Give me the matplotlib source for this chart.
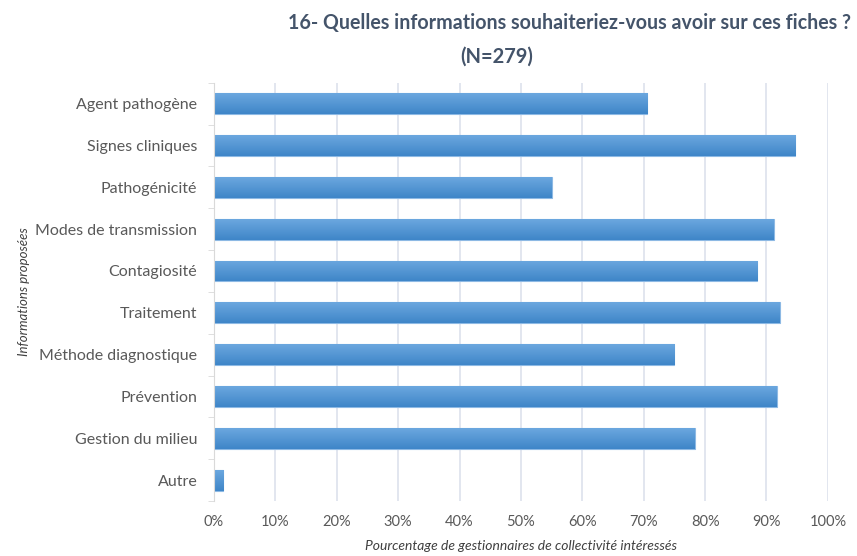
import matplotlib
matplotlib.use("Agg")
import matplotlib.pyplot as plt
import numpy as np
from matplotlib.ticker import PercentFormatter

# data (percent of managers interested)
categories = ['Agent pathogène', 'Signes cliniques', 'Pathogénicité',
              'Modes de transmission', 'Contagiosité', 'Traitement',
              'Méthode diagnostique', 'Prévention', 'Gestion du milieu', 'Autre']
values = [70.6, 94.7, 55.0, 91.2, 88.5, 92.2, 75.0, 91.7, 78.3, 1.5]
xticks = [0, 10, 20, 30, 40, 50, 60, 70, 80, 90, 100]

plt.rcParams['font.family'] = ['Lato', 'DejaVu Sans']

fig = plt.figure(figsize=(8.57, 5.56), dpi=100)
ax = fig.add_axes([0.2497, 0.099, 0.7163, 0.752])

y = np.arange(len(categories))
bars = ax.barh(y, values, height=0.5, color='#5B9BD5', edgecolor='#8DB9E4',
               linewidth=0.8, zorder=2)

# light vertical gradient inside each bar, like the Excel fill
grad = np.linspace(0, 1, 50).reshape(-1, 1)
cmap = matplotlib.colors.LinearSegmentedColormap.from_list('g', ['#6BA7DF', '#3F86C8'])
for b in bars:
    x0, yb = b.get_x(), b.get_y()
    w, h = b.get_width(), b.get_height()
    im = ax.imshow(grad, extent=[x0, x0 + w, yb + h, yb], aspect='auto',
                   cmap=cmap, zorder=2.5, origin='upper')
    im.set_clip_path(b)

ax.set_ylim(len(categories) - 0.5, -0.5)
ax.set_xlim(0, 100)
ax.set_yticks(y)
ax.set_yticklabels(categories, fontsize=11.5, color='#595959')
ax.set_yticks(np.arange(-0.5, len(categories)), minor=True)
ax.tick_params(axis='y', which='major', length=0, pad=12)
ax.tick_params(axis='y', which='minor', length=4, color='#D9D9D9', direction='out')

ax.set_xticks(xticks)
ax.xaxis.set_major_formatter(PercentFormatter(decimals=0))
ax.tick_params(axis='x', length=0, labelsize=10.5, labelcolor='#595959', pad=10)
ax.grid(axis='x', color='#DDE2EC', linewidth=1.2, zorder=0)

for s in ['top', 'right', 'bottom']:
    ax.spines[s].set_visible(False)
ax.spines['left'].set_color('#D9D9D9')

ax.set_xlabel('Pourcentage de gestionnaires de collectivité intéressés',
              fontsize=10, style='italic', color='#404040', labelpad=8)
ax.set_ylabel('Informations proposées', fontsize=9.5, style='italic',
              color='#404040', labelpad=4)

fig.text(0.993, 0.958, '16- Quelles informations souhaiteriez-vous avoir sur ces fiches ?',
         ha='right', va='center', fontsize=14.1, fontweight='bold', color='#44546A')
fig.text(0.58, 0.898, '(N=279)', ha='center', va='center', fontsize=14.5,
         fontweight='bold', color='#44546A')

fig.savefig('out.png', dpi=100)
